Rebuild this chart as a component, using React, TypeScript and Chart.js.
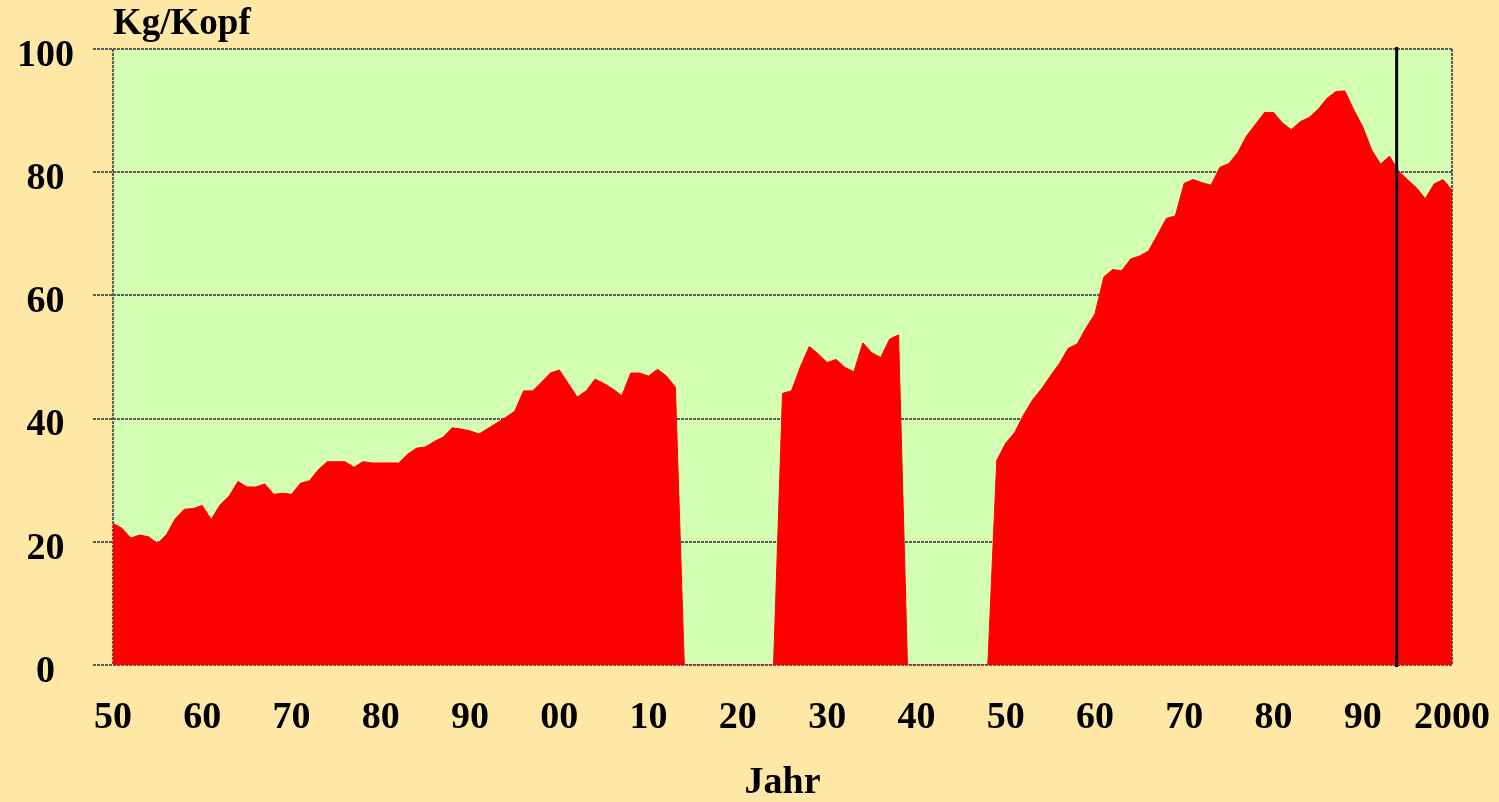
import React, { useEffect, useRef } from 'react';
import { Chart, registerables } from 'chart.js';

Chart.register(...registerables);

// ---- Data (Kg per head, yearly) ----
const START_YEAR = 1850;
const MARK_YEAR = 1993.8;

const values1850to1913 = [
  23.0, 22.2, 20.6, 21.1, 20.8, 19.7, 21.2, 23.8, 25.3, 25.4,
  25.9, 23.6, 26.0, 27.4, 29.8, 28.9, 28.9, 29.4, 27.7, 27.9,
  27.7, 29.5, 29.9, 31.7, 33.0, 33.0, 33.0, 32.1, 33.0, 32.8,
  32.8, 32.8, 32.8, 34.2, 35.2, 35.4, 36.3, 37.0, 38.5, 38.3,
  38.0, 37.5, 38.4, 39.3, 40.2, 41.2, 44.5, 44.5, 45.9, 47.4,
  47.9, 45.7, 43.5, 44.5, 46.4, 45.7, 44.8, 43.7, 47.4, 47.4,
  46.9, 48.0, 46.9, 45.1,
];
const gap1914to1924 = [0, 0, 0, 0, 0, 0, 0, 0, 0, 0, 0];
const values1925to1938 = [
  44.1, 44.5, 48.4, 51.7, 50.5, 49.1, 49.6, 48.3, 47.6, 52.3,
  50.7, 49.9, 52.9, 53.6,
];
const gap1939to1948 = [0, 0, 0, 0, 0, 0, 0, 0, 0, 0];
const values1949to2000 = [
  33.2, 36.0, 37.7, 40.6, 43.0, 44.8, 46.9, 48.9, 51.4, 52.1,
  54.7, 57.0, 63.0, 64.2, 64.0, 65.9, 66.4, 67.2, 69.8, 72.5,
  72.9, 78.2, 78.8, 78.3, 77.9, 80.8, 81.4, 83.2, 85.9, 87.8,
  89.7, 89.7, 88.0, 86.9, 88.2, 88.9, 90.2, 92.0, 93.1, 93.2,
  90.1, 87.4, 83.6, 81.3, 82.6, 80.2, 78.8, 77.5, 75.7, 78.1,
  78.8, 77.1,
];

const xTickLabels = ['50', '60', '70', '80', '90', '00', '10', '20', '30', '40', '50', '60', '70', '80', '90', '2000'];
const yTickValues = [0, 20, 40, 60, 80, 100];

const PAGE_BG = '#FFE7A6';
const PLOT_BG = '#D4FFB2';
const FILL = '#FF0000';
const GRID = '#5c5c5c';
const DASH = [3, 1];
const FONT_FAMILY = "'Liberation Serif', 'Times New Roman', serif";

export default function App() {
  const canvasRef = useRef<HTMLCanvasElement | null>(null);

  useEffect(() => {
    const canvas = canvasRef.current;
    if (!canvas) return;

    const allValues = [
      ...values1850to1913,
      ...gap1914to1924,
      ...values1925to1938,
      ...gap1939to1948,
      ...values1949to2000,
    ];
    const points = allValues.map((v, i) => ({ x: START_YEAR + i, y: v }));
    const endYear = START_YEAR + allValues.length - 1;

    const plotBg = {
      id: 'plotBg',
      beforeDraw(chart: any) {
        const { ctx, chartArea } = chart;
        ctx.save();
        ctx.fillStyle = PLOT_BG;
        ctx.fillRect(chartArea.left, chartArea.top, chartArea.right - chartArea.left, chartArea.bottom - chartArea.top);
        ctx.restore();
      },
    };

    const markLine = {
      id: 'markLine',
      afterDatasetsDraw(chart: any) {
        const { ctx, chartArea, scales } = chart;
        const x = scales.x.getPixelForValue(MARK_YEAR);
        ctx.save();
        ctx.strokeStyle = '#000000';
        ctx.lineWidth = 3;
        ctx.beginPath();
        ctx.moveTo(x, chartArea.top - 2);
        ctx.lineTo(x, chartArea.bottom + 2);
        ctx.stroke();
        ctx.restore();
      },
    };

    const chart = new Chart(canvas, {
      type: 'line',
      data: {
        datasets: [
          {
            data: points,
            fill: 'origin',
            backgroundColor: FILL,
            borderColor: FILL,
            borderWidth: 1,
            pointRadius: 0,
            tension: 0,
          },
        ],
      },
      options: {
        animation: false,
        responsive: true,
        maintainAspectRatio: false,
        layout: { padding: { left: 0, right: 47, top: 0, bottom: 0 } },
        plugins: {
          legend: { display: false },
          tooltip: { enabled: false },
          title: {
            display: true,
            text: 'Kg/Kopf',
            align: 'start',
            fullSize: false,
            color: '#000000',
            font: { family: FONT_FAMILY, size: 37, weight: 'bold', lineHeight: 1.2 },
            padding: { top: 2, bottom: 2.6 },
          },
        },
        scales: {
          x: {
            type: 'linear',
            min: START_YEAR,
            max: endYear,
            afterFit: (s: any) => {
              s.height = 137;
              s.paddingLeft = 0;
              s.paddingRight = 0;
            },
            ticks: {
              stepSize: 10,
              autoSkip: false,
              maxRotation: 0,
              minRotation: 0,
              padding: 30,
              color: '#000000',
              font: { family: FONT_FAMILY, size: 38, weight: 'bold', lineHeight: 1.2 },
              callback: (v: any) => {
                const idx = Math.round((Number(v) - START_YEAR) / 10);
                return xTickLabels[idx] ?? '';
              },
            },
            grid: {
              drawTicks: false,
              lineWidth: 2,
              color: (c: any) =>
                c.tick && (c.tick.value === START_YEAR || c.tick.value === endYear) ? GRID : 'rgba(0,0,0,0)',
              borderDash: DASH,
            } as any,
            border: { display: false, dash: DASH },
            title: {
              display: true,
              text: 'Jahr',
              color: '#000000',
              font: { family: FONT_FAMILY, size: 38, weight: 'bold', lineHeight: 1 },
              padding: { top: 0, bottom: 0 },
            },
          },
          y: {
            min: 0,
            max: 100,
            afterFit: (s: any) => {
              s.width = 113;
            },
            afterBuildTicks: (s: any) => {
              s.ticks = yTickValues.map((v) => ({ value: v }));
            },
            ticks: {
              stepSize: 20,
              padding: 19,
              crossAlign: 'center',
              labelOffset: 7,
              color: '#000000',
              font: { family: FONT_FAMILY, size: 38, weight: 'bold', lineHeight: 1.2 },
            },
            grid: {
              color: GRID,
              lineWidth: 2,
              drawTicks: true,
              tickLength: 20,
              tickWidth: 2,
              tickColor: GRID,
              tickBorderDash: DASH,
              borderDash: DASH,
            } as any,
            border: { display: false, dash: DASH },
          },
        },
      },
      plugins: [plotBg, markLine],
    } as any);

    return () => {
      chart.destroy();
    };
  }, []);

  return (
    <div
      style={{
        position: 'fixed',
        left: 0,
        top: 0,
        width: 1499,
        height: 802,
        background: PAGE_BG,
      }}
    >
      <canvas ref={canvasRef} />
    </div>
  );
}
